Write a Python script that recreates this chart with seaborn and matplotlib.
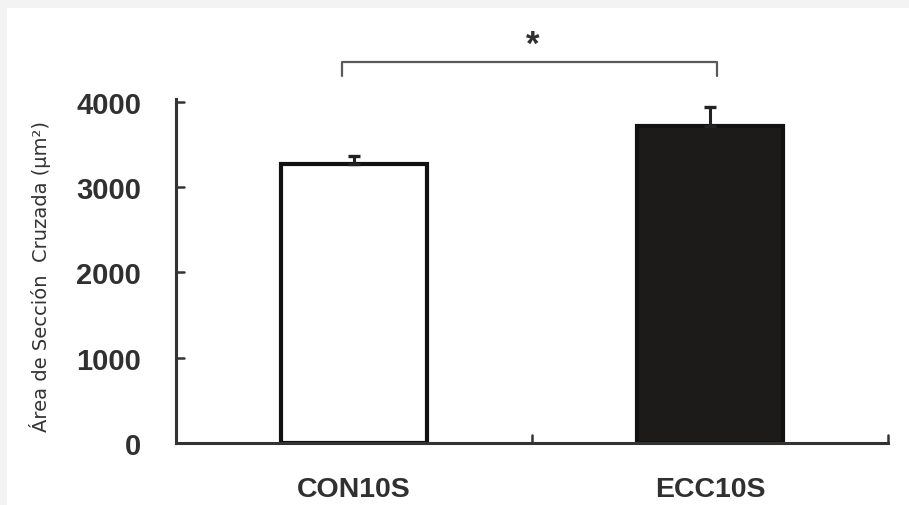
import matplotlib
matplotlib.use("Agg")
import matplotlib.pyplot as plt
from matplotlib.patches import Rectangle
import seaborn as sns
import pandas as pd

groups = ["CON10S", "ECC10S"]
mean_area = [3270, 3720]
sem_area = [95, 220]
bar_fill = ["#ffffff", "#1e1b19"]
y_ticks = [0, 1000, 2000, 3000, 4000]

df = pd.DataFrame({"grupo": groups, "area": mean_area})

sns.set_theme(style="white")
plt.rcParams["font.family"] = ["Liberation Sans", "DejaVu Sans"]

fig = plt.figure(figsize=(9.09, 5.06), dpi=100, facecolor="#f3f3f3")
fig.patches.append(Rectangle((7 / 909, 0), 1, 1 - 9 / 506, transform=fig.transFigure,
                             facecolor="white", edgecolor="none", zorder=-10))

YMAX = 4035
ax = fig.add_axes([176 / 909, 1 - 444 / 506, (888 - 176) / 909, (444 - 100) / 506])
ax.set_facecolor("none")

sns.barplot(data=df, x="grupo", y="area", hue="grupo", palette=bar_fill,
            width=0.41, edgecolor="#111111", linewidth=3.0, legend=False, ax=ax,
            errorbar=None)

# one-sided (upper) error bars
ax.errorbar(range(len(groups)), mean_area, yerr=[[0] * len(groups), sem_area],
            fmt="none", ecolor="#222222", elinewidth=2.2, capsize=4.5, capthick=2.4,
            zorder=3)

ax.set_xlim(-0.5, 1.5)
ax.set_ylim(0, YMAX)
ax.set_yticks(y_ticks)
ax.set_yticklabels([str(v) for v in y_ticks], fontsize=21, fontweight="bold",
                   color="#303030")
ax.set_xticks([0, 1])
ax.set_xticklabels(groups, fontsize=20.5, fontweight="bold", color="#303030")
ax.tick_params(axis="x", length=0, pad=24)
ax.tick_params(axis="y", length=0, pad=25)
ax.set_xlabel("")
ax.set_ylabel("Área de Sección  Cruzada (µm²)", fontsize=14, color="#333333",
              family=["DejaVu Sans"])
ax.yaxis.set_label_coords(-0.176, 0.488)

for side in ["top", "right"]:
    ax.spines[side].set_visible(False)
for side in ["left", "bottom"]:
    ax.spines[side].set_color("#333333")
    ax.spines[side].set_linewidth(2.2)

# inward ticks: y ticks to the right, category boundary ticks pointing up
for v in y_ticks[1:]:
    ax.plot([-0.5, -0.478], [v, v], color="#333333", lw=1.8, clip_on=False)
for xb in [0.5, 1.5]:
    ax.plot([xb, xb], [0, 95], color="#333333", lw=1.8, clip_on=False)


def px_to_y(py):
    return (444 - py) * YMAX / 344


# significance bracket
ax.plot([-0.034, -0.034, 1.02, 1.02], [px_to_y(77), px_to_y(63), px_to_y(63), px_to_y(77)],
        color="#5a5a5a", lw=1.6, clip_on=False)
ax.text(0.503, px_to_y(55), "*", ha="center", va="baseline", fontsize=25,
        fontweight="bold", color="#303030")

fig.savefig("out.png", dpi=100, facecolor=fig.get_facecolor())
